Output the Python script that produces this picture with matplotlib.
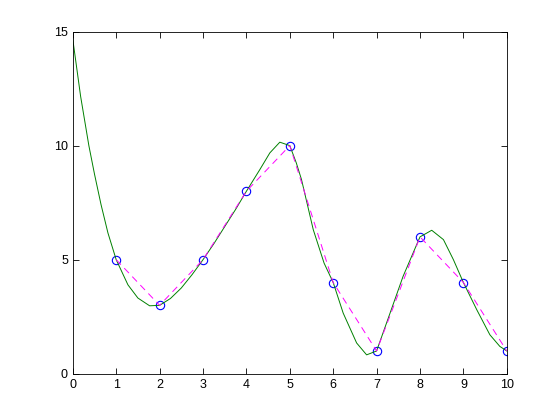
import numpy as np
import matplotlib
matplotlib.use("Agg")
import matplotlib.pyplot as plt

plt.rcParams['font.family'] = ['Liberation Sans', 'DejaVu Sans']

# sample points
xs = [1, 2, 3, 4, 5, 6, 7, 8, 9, 10]
ys = [5, 3, 5, 8, 10, 4, 1, 6, 4, 1]

# smooth curve
xc = [0, 0.18, 0.37, 0.5, 0.65, 0.81, 1.0, 1.27, 1.5, 1.77, 2.0,
      2.25, 2.5, 2.75, 3.0, 3.25, 3.5, 3.75, 4.0, 4.31, 4.54, 4.77, 5.0, 5.15, 5.27,
      5.54, 5.79, 6.0, 6.23, 6.54, 6.77, 7.0, 7.31, 7.61, 8.0, 8.27, 8.54, 8.77,
      9.0, 9.31, 9.61, 9.84, 10.0]
yc = [14.65, 12.16, 10.0, 8.75, 7.42, 6.17, 5.0, 3.9, 3.32, 2.98,
      3.0, 3.3, 3.76, 4.35, 5.0, 5.7, 6.45, 7.2, 8.0, 8.95, 9.68, 10.15, 10.0, 9.24,
      8.51, 6.32, 4.85, 4.0, 2.66, 1.35, 0.83, 1.0, 2.66, 4.27, 6.0, 6.29, 5.88, 5.0,
      4.0, 2.8, 1.71, 1.2, 1.0]

fig = plt.figure(figsize=(5.6, 4.2), dpi=100)
ax = fig.add_axes([0.13, 0.11, 0.775, 0.815])

ax.plot(xs, ys, "o", mfc="none", mec="#0000ff", ms=6, mew=0.8)
ax.plot(xc, yc, color="#008000", lw=0.7)
ax.plot(xs, ys, "--", color="#ff00ff", lw=0.7, dashes=(7, 5))

ax.set_xlim(0, 10)
ax.set_ylim(0, 15)
ax.set_xticks(range(0, 11))
ax.set_yticks([0, 5, 10, 15])
ax.tick_params(direction="in", top=True, right=True, length=4, labelsize=9, width=0.6)
for s in ax.spines.values():
    s.set_linewidth(0.6)

fig.savefig("out.png", dpi=100)
